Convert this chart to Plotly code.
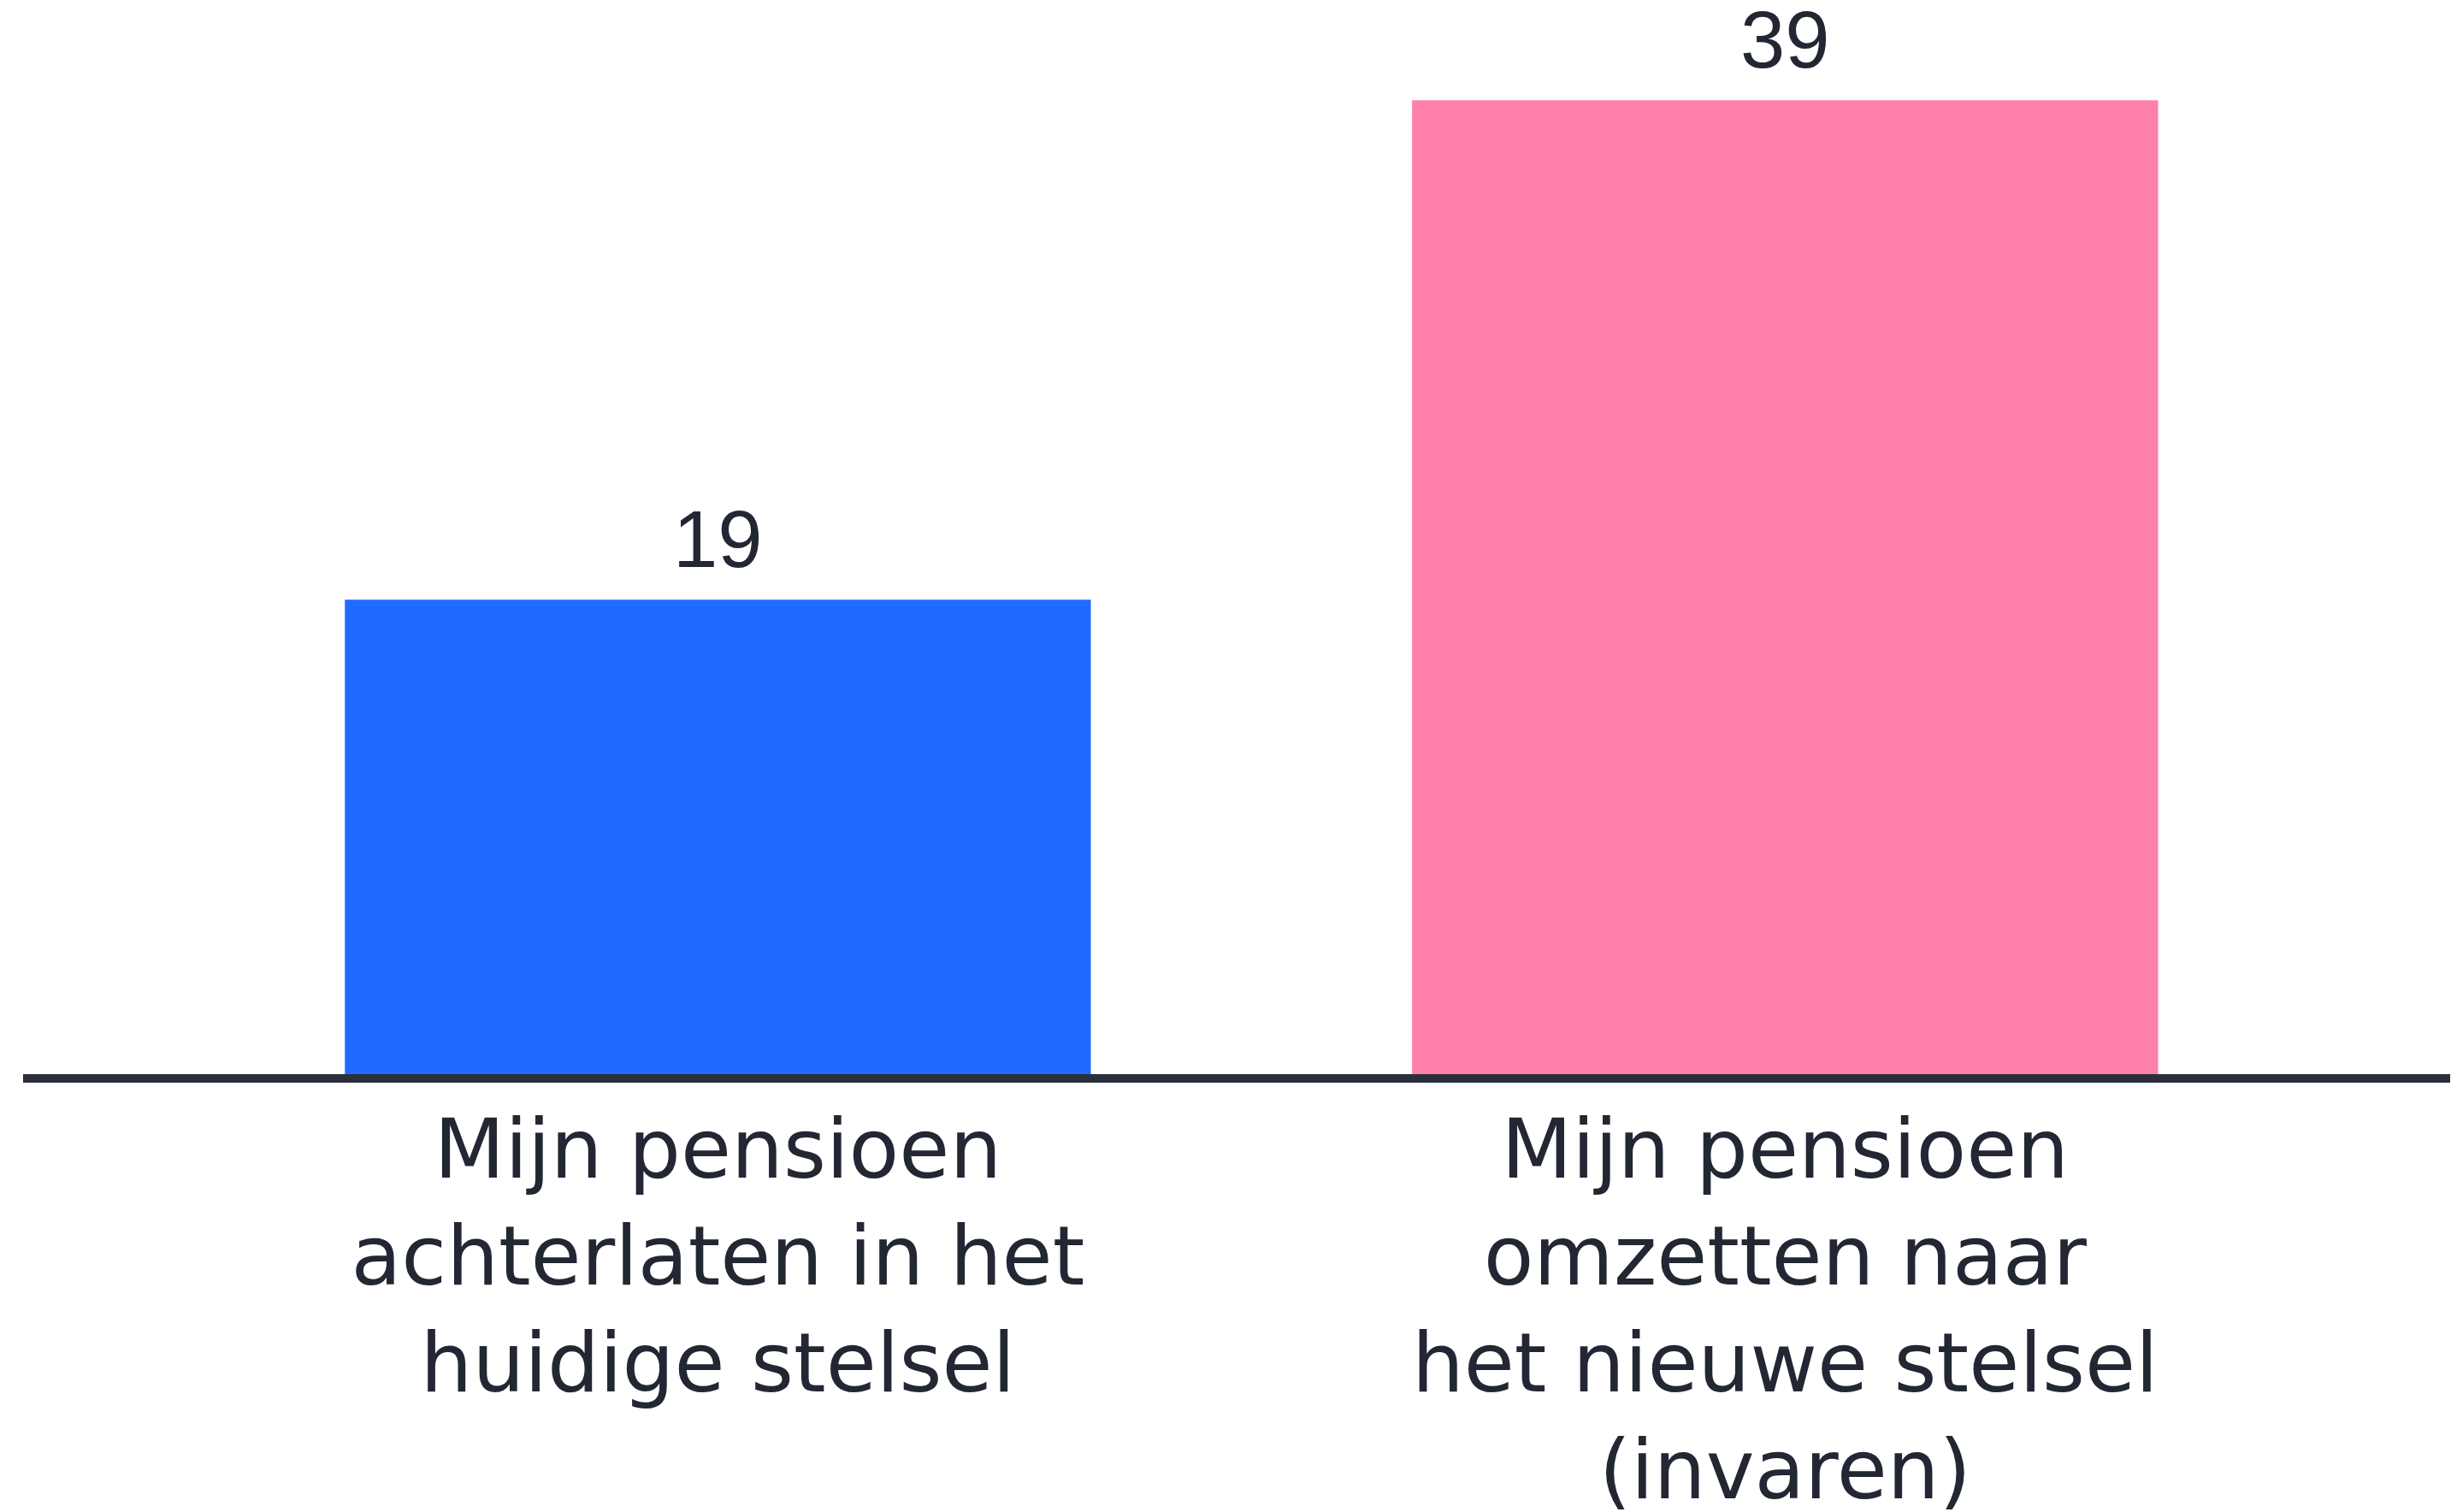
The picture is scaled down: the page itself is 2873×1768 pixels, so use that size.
import plotly.graph_objects as go

categories = [
    "Mijn pensioen<br>achterlaten in het<br>huidige stelsel",
    "Mijn pensioen<br>omzetten naar<br>het nieuwe stelsel<br>(invaren)",
]
values = [19, 39]
value_labels = ["19", "39"]
bar_colors = ["#1F6BFF", "#FF80A9"]

# the page body has an 8px default margin; compensate in the layout
W, H = 2873, 1768
body_off = 8
m_l, m_r, m_t = 27 - body_off, 0, 20 - body_off
plot_bottom = 1256 - body_off
m_b = H - plot_bottom
px_per_unit = 29.2
ymax = (plot_bottom - m_t) / px_per_unit

text_color = "#222733"

fig = go.Figure(
    go.Bar(
        x=categories,
        y=values,
        marker=dict(color=bar_colors, line=dict(width=0)),
        width=0.699,
        cliponaxis=False,
    )
)

for cat, v, lab in zip(categories, values, value_labels):
    fig.add_annotation(
        x=cat,
        y=v,
        text=lab,
        showarrow=False,
        yanchor="bottom",
        yshift=16,
        font=dict(family="Liberation Sans, Arial, sans-serif", size=94, color=text_color),
    )

fig.update_layout(
    width=W,
    height=H,
    margin=dict(l=m_l, r=m_r, t=m_t, b=m_b, pad=0, autoexpand=False),
    paper_bgcolor="white",
    plot_bgcolor="white",
    showlegend=False,
    xaxis=dict(
        type="category",
        range=[-0.651, 1.636],
        automargin=False,
        showline=True,
        linecolor="#2A2F3A",
        linewidth=10,
        showgrid=False,
        zeroline=False,
        ticks="",
        ticklabelstandoff=-4,
        tickfont=dict(family="DejaVu Sans, sans-serif", size=96, color=text_color),
    ),
    yaxis=dict(
        range=[0, ymax],
        visible=False,
        automargin=False,
        showgrid=False,
        zeroline=False,
    ),
)

fig.write_html("out.html")
